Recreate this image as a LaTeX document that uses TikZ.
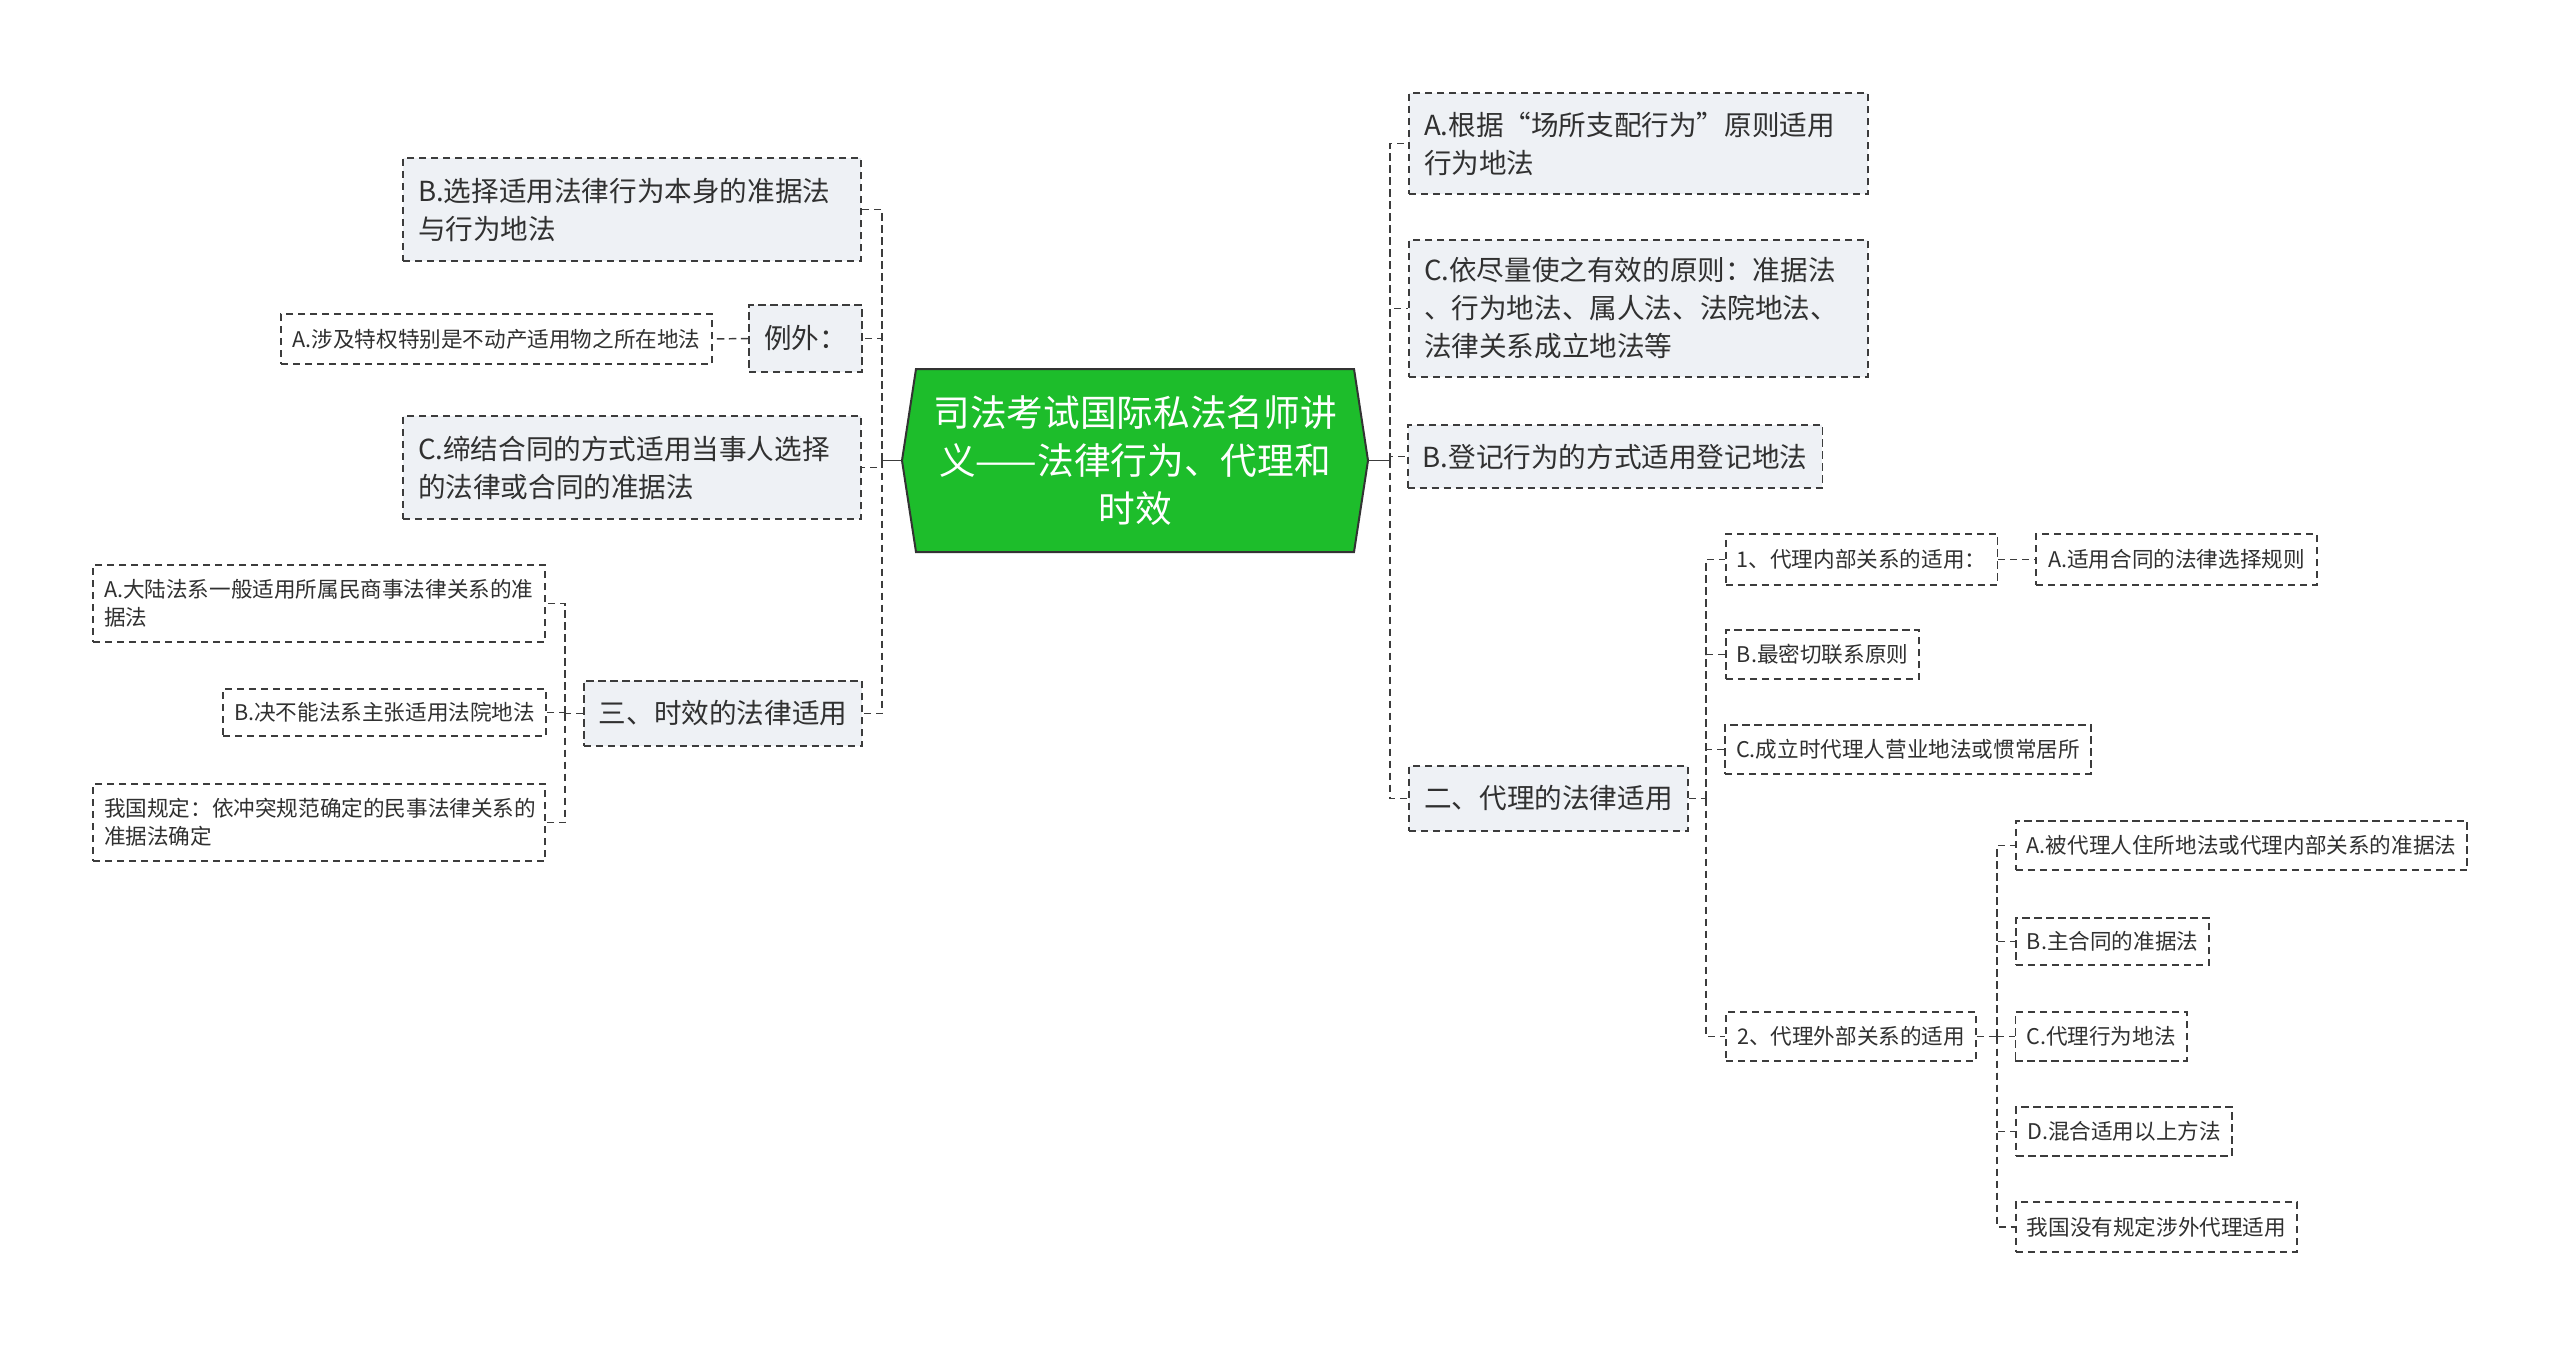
\documentclass[tikz,border=0pt]{standalone}
\usepackage{fontspec}
\setmainfont{Noto Sans CJK SC}
\definecolor{grn}{HTML}{1DBD2B}
\definecolor{edge}{HTML}{3C3C3C}
\definecolor{boxfill}{HTML}{EEF1F5}
\definecolor{txt}{HTML}{303030}
\begin{document}
\begin{tikzpicture}[x=0.75pt,y=-0.75pt,
  bx/.style={draw=edge, line width=1.2pt, dash pattern=on 5.5pt off 3.5pt, text=txt, inner ysep=0pt, align=left},
  big/.style={bx, fill=boxfill, font=\fontsize{20.7pt}{28.5pt}\selectfont, inner xsep=11.25pt},
  small/.style={bx, fill=white, font=\fontsize{16.2pt}{21pt}\selectfont, inner xsep=8.25pt},
  conn/.style={draw=edge, line width=1.1pt, dash pattern=on 5.5pt off 3.5pt},
  solidc/.style={draw=edge, line width=1.3pt},
  centerpoly/.style={fill=grn, draw=black!80, line width=1.5pt, line join=miter},
]
\fill[white] (0,0) rectangle (2560,1345);
\useasboundingbox (0,0) rectangle (2560,1345);

% central topic
\draw[centerpoly] (902,460.5) -- (916,369) -- (1354,369) -- (1368,460.5) -- (1354,552) -- (916,552) -- cycle;
\node[font=\fontsize{27.5pt}{36pt}\selectfont, text=white, align=center, text width=315pt,
      inner xsep=0pt, inner ysep=0pt, minimum width=349.5pt, minimum height=137.25pt] (CT) at (1135,460.5)
  {司法考试国际私法名师讲\\义——法律行为、代理和\\时效};

% left side
\node[big, text width=321pt, minimum height=77.25pt] (Bl) at (632,209.5) {B.选择适用法律行为本身的准据法\\与行为地法};
\node[big, minimum width=83.25pt, minimum height=50.25pt] (Ex) at (805.5,338.5) {例外：};
\node[small, minimum width=323.25pt, minimum height=37.5pt] (Al) at (496.5,339) {A.涉及特权特别是不动产适用物之所在地法};
\node[big, text width=321pt, minimum height=77.25pt] (Cl) at (632,467.5) {C.缔结合同的方式适用当事人选择\\的法律或合同的准据法};
\node[big, minimum width=207pt, minimum height=48.75pt] (San) at (723,713.5) {三、时效的法律适用};
\node[small, text width=322.5pt, minimum height=57.75pt] (Ad) at (319,603.5) {A.大陆法系一般适用所属民商事法律关系的准\\据法};
\node[small, minimum width=240.75pt, minimum height=35.25pt] (Bj) at (384.5,712.5) {B.决不能法系主张适用法院地法};
\node[small, text width=322.5pt, minimum height=57.75pt] (Wg) at (319,822.5) {我国规定：依冲突规范确定的民事法律关系的\\准据法确定};

% right side
\node[big, text width=321.75pt, minimum height=75.75pt] (Ar) at (1638.5,143.5) {A.根据“场所支配行为”原则适用\\行为地法};
\node[big, text width=321.75pt, minimum height=102.75pt] (Cr) at (1638.5,308.5) {C.依尽量使之有效的原则：准据法\\、行为地法、属人法、法院地法、\\法律关系成立地法等};
\node[big, minimum width=309pt, minimum height=47.25pt] (Br) at (1615,456.5) {B.登记行为的方式适用登记地法};
\node[big, minimum width=209.25pt, minimum height=48.75pt] (Er) at (1548.5,798.5) {二、代理的法律适用};

\node[small, minimum width=203.25pt, minimum height=38.25pt] (N1) at (1861.5,559.5) {1、代理内部关系的适用：};
\node[small, minimum width=210.75pt, minimum height=38.25pt] (N1A) at (2176.5,559.5) {A.适用合同的法律选择规则};
\node[small, minimum width=144.75pt, minimum height=36.75pt] (N1B) at (1822.5,654.5) {B.最密切联系原则};
\node[small, minimum width=273pt, minimum height=36.75pt] (N1C) at (1908,749.5) {C.成立时代理人营业地法或惯常居所};
\node[small, minimum width=187.5pt, minimum height=36.75pt] (N2) at (1851,1036.5) {2、代理外部关系的适用};
\node[small, minimum width=336.75pt, minimum height=36.75pt] (N2A) at (2241.5,845.5) {A.被代理人住所地法或代理内部关系的准据法};
\node[small, minimum width=143.25pt, minimum height=35.25pt] (N2B) at (2112.5,941.5) {B.主合同的准据法};
\node[small, minimum width=126pt, minimum height=36.75pt] (N2C) at (2101,1036.5) {C.代理行为地法};
\node[small, minimum width=160.5pt, minimum height=36.75pt] (N2D) at (2124,1131.5) {D.混合适用以上方法};
\node[small, minimum width=209.25pt, minimum height=37.5pt] (N2E) at (2156.5,1227) {我国没有规定涉外代理适用};

% junction points
\coordinate (LT) at (882,460.5);
\coordinate (RT) at (1390,460.5);
\coordinate (T3L) at (565,713.5);
\coordinate (T2) at (1706,798.5);
\coordinate (T3) at (1997,1036.5);

% connectors
\draw[solidc] (CT.west) -- (LT);
\draw[solidc] (CT.east) -- (RT);
\draw[conn] (LT) |- (Bl.east);
\draw[conn] (LT) |- (Ex.east);
\draw[conn] (LT) |- (Cl.east);
\draw[conn] (LT) |- (San.east);
\draw[conn] (Ex.west) -- (Al.east);
\draw[conn] (San.west) -- (T3L);
\draw[conn] (T3L) |- (Ad.east);
\draw[conn] (T3L) |- (Bj.east);
\draw[conn] (T3L) |- (Wg.east);

\draw[conn] (RT) |- (Ar.west);
\draw[conn] (RT) |- (Cr.west);
\draw[conn] (RT) |- (Br.west);
\draw[conn] (RT) |- (Er.west);
\draw[conn] (Er.east) -- (T2);
\draw[conn] (T2) |- (N1.west);
\draw[conn] (T2) |- (N1B.west);
\draw[conn] (T2) |- (N1C.west);
\draw[conn] (T2) |- (N2.west);
\draw[conn] (N1.east) -- (N1A.west);
\draw[conn] (N2.east) -- (T3);
\draw[conn] (T3) |- (N2A.west);
\draw[conn] (T3) |- (N2B.west);
\draw[conn] (T3) |- (N2C.west);
\draw[conn] (T3) |- (N2D.west);
\draw[conn] (T3) |- (N2E.west);
\end{tikzpicture}
\end{document}
